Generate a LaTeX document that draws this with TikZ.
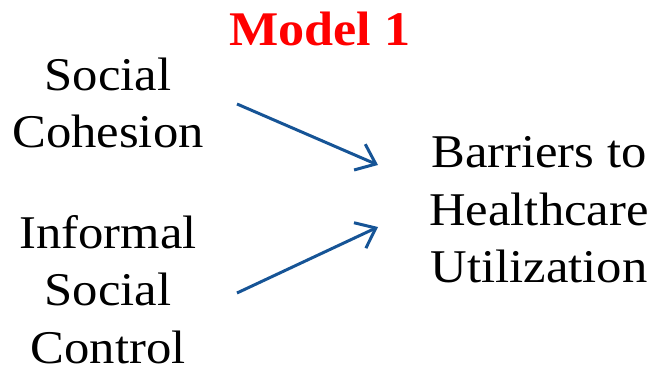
\documentclass[tikz,border=0pt]{standalone}
\usepackage{fontspec}
\setmainfont{Liberation Serif}[FakeStretch=1.08]
\usepackage{xcolor}
\usetikzlibrary{arrows.meta}
\definecolor{arrowblue}{RGB}{22,84,150}
\definecolor{titlered}{RGB}{255,0,0}

\begin{document}
\begin{tikzpicture}[
		txt/.style={align=center, inner sep=0pt, font=\fontsize{26.7}{32.8}\selectfont},
		flow/.style={draw=arrowblue, line width=1.7pt, -{Straight Barb[length=10pt, width=16pt, line width=1.7pt]}}
	]
		\useasboundingbox (0,0) rectangle (13.16,7.42);
		\node[inner sep=0pt] (title) at (6.4,6.84) {\bfseries\color{titlered}\fontsize{27.5}{30}\selectfont Model 1};
		\node[txt] (coh) at (2.16,5.36) {Social\\Cohesion};
		\node[txt] (ctl) at (2.16,1.63) {Informal\\Social\\Control};
		\node[txt] (bar) at (10.78,3.22) {Barriers to\\Healthcare\\Utilization};
		\draw[flow] ([shift={(2.58,-0.02)}]coh.center) -- ([shift={(-3.22,0.90)}]bar.center);
		\draw[flow] ([shift={(2.58,-0.07)}]ctl.center) -- ([shift={(-3.22,-0.34)}]bar.center);
		% arrows point from both factors into the outcome
	\end{tikzpicture}
\end{document}
